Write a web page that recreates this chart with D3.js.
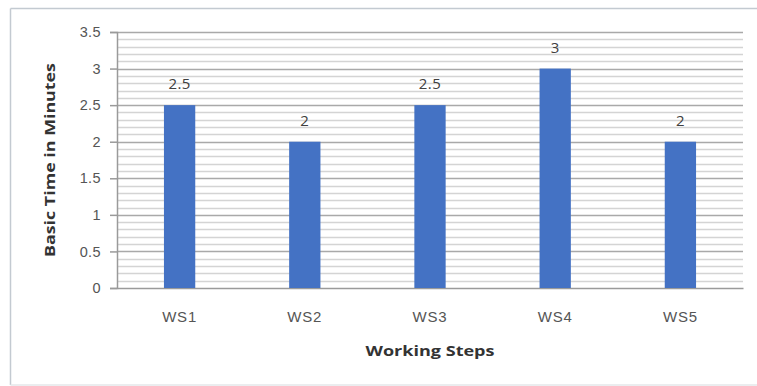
<!DOCTYPE html>
<html>
<head>
<meta charset="utf-8">
<script src="https://cdn.jsdelivr.net/npm/d3@7"></script>
<style>
  html, body { margin: 0; padding: 0; background: #fff; overflow: hidden; }
  svg { display: block; font-family: "Open Sans", "Liberation Sans", sans-serif; }
</style>
</head>
<body>
<svg id="chart" width="757" height="386"></svg>
<script>
// Basic time per working step
const steps = ["WS1", "WS2", "WS3", "WS4", "WS5"];
const basicTime = [2.5, 2, 2.5, 3, 2];
const yTicks = [0, 0.5, 1, 1.5, 2, 2.5, 3, 3.5];
const xTitle = "Working Steps";
const yTitle = "Basic Time in Minutes";

const svg = d3.select("#chart");
const W = 757;
const plot = { left: 117, right: 743, top: 32, bottom: 288 };

// chart frame: left, top and bottom edges (right edge runs off the page)
const frame = svg.append("g").attr("stroke", "#c3cad1").attr("stroke-width", 1.5);
frame.append("line").attr("x1", 10.5).attr("x2", W).attr("y1", 8.5).attr("y2", 8.5);
frame.append("line").attr("x1", 10.5).attr("x2", 10.5).attr("y1", 8.5).attr("y2", 385);
frame.append("line").attr("x1", 10.5).attr("x2", W).attr("y1", 385).attr("y2", 385).attr("stroke", "#e4e7ea");

const x = d3.scaleBand().domain(steps).range([plot.left, plot.right]).paddingInner(0.75).paddingOuter(0.375);
const y = d3.scaleLinear().domain([0, 3.5]).range([plot.bottom, plot.top]);

// minor gridlines every 0.1
const minor = d3.range(1, 35).map(i => i / 10).filter(v => Math.abs(v * 2 - Math.round(v * 2)) > 1e-6);
svg.append("g").selectAll("line").data(minor).join("line")
  .attr("x1", plot.left).attr("x2", plot.right)
  .attr("y1", d => Math.round(y(d)) + 0.5).attr("y2", d => Math.round(y(d)) + 0.5)
  .attr("stroke", "#d4d4d4").attr("stroke-width", 1.5);

// major gridlines
svg.append("g").selectAll("line").data(yTicks.slice(1)).join("line")
  .attr("x1", plot.left).attr("x2", plot.right)
  .attr("y1", d => Math.round(y(d)) + 0.5).attr("y2", d => Math.round(y(d)) + 0.5)
  .attr("stroke", "#a9a9a9").attr("stroke-width", 1.5);

// y axis
const yAxis = svg.append("g")
  .attr("transform", `translate(${plot.left},0)`)
  .call(d3.axisLeft(y).tickValues(yTicks).tickFormat(d3.format("")).tickSize(7).tickPadding(9));
yAxis.select(".domain").attr("stroke", "#9a9a9a").attr("stroke-width", 1.5);
yAxis.selectAll(".tick line").attr("stroke", "#9a9a9a").attr("stroke-width", 1.5);
yAxis.selectAll(".tick text").attr("fill", "#555").style("font-size", "14.5px").style("letter-spacing", "0.4px");

// x axis baseline and labels
const xAxis = svg.append("g")
  .attr("transform", `translate(0,${plot.bottom})`)
  .call(d3.axisBottom(x).tickSize(0).tickPadding(23));
xAxis.select(".domain").attr("stroke", "#9a9a9a").attr("stroke-width", 1.5);
xAxis.selectAll(".tick text").attr("fill", "#555").style("font-size", "15px").style("letter-spacing", "0.8px");

// bars
svg.append("g").selectAll("rect").data(basicTime).join("rect")
  .attr("x", (d, i) => x(steps[i]))
  .attr("width", x.bandwidth())
  .attr("y", d => y(d))
  .attr("height", d => y(0) - y(d))
  .attr("fill", "#4472c4");

// value labels
svg.append("g").selectAll("text").data(basicTime).join("text")
  .attr("x", (d, i) => x(steps[i]) + x.bandwidth() / 2)
  .attr("y", d => y(d) - 16)
  .attr("text-anchor", "middle")
  .attr("fill", "#404040")
  .style("font-size", "15px").style("letter-spacing", "0.4px")
  .text(d => d);

// axis titles
svg.append("text")
  .attr("x", (plot.left + plot.right) / 2).attr("y", 356)
  .attr("text-anchor", "middle")
  .attr("textLength", 129).attr("lengthAdjust", "spacingAndGlyphs")
  .attr("fill", "#333").style("font-size", "15px").style("font-weight", "bold")
  .text(xTitle);

svg.append("text")
  .attr("transform", `translate(55,${(plot.top + plot.bottom) / 2}) rotate(-90)`)
  .attr("text-anchor", "middle")
  .attr("textLength", 194).attr("lengthAdjust", "spacingAndGlyphs")
  .attr("fill", "#333").style("font-size", "15px").style("font-weight", "bold")
  .text(yTitle);
</script>
</body>
</html>
